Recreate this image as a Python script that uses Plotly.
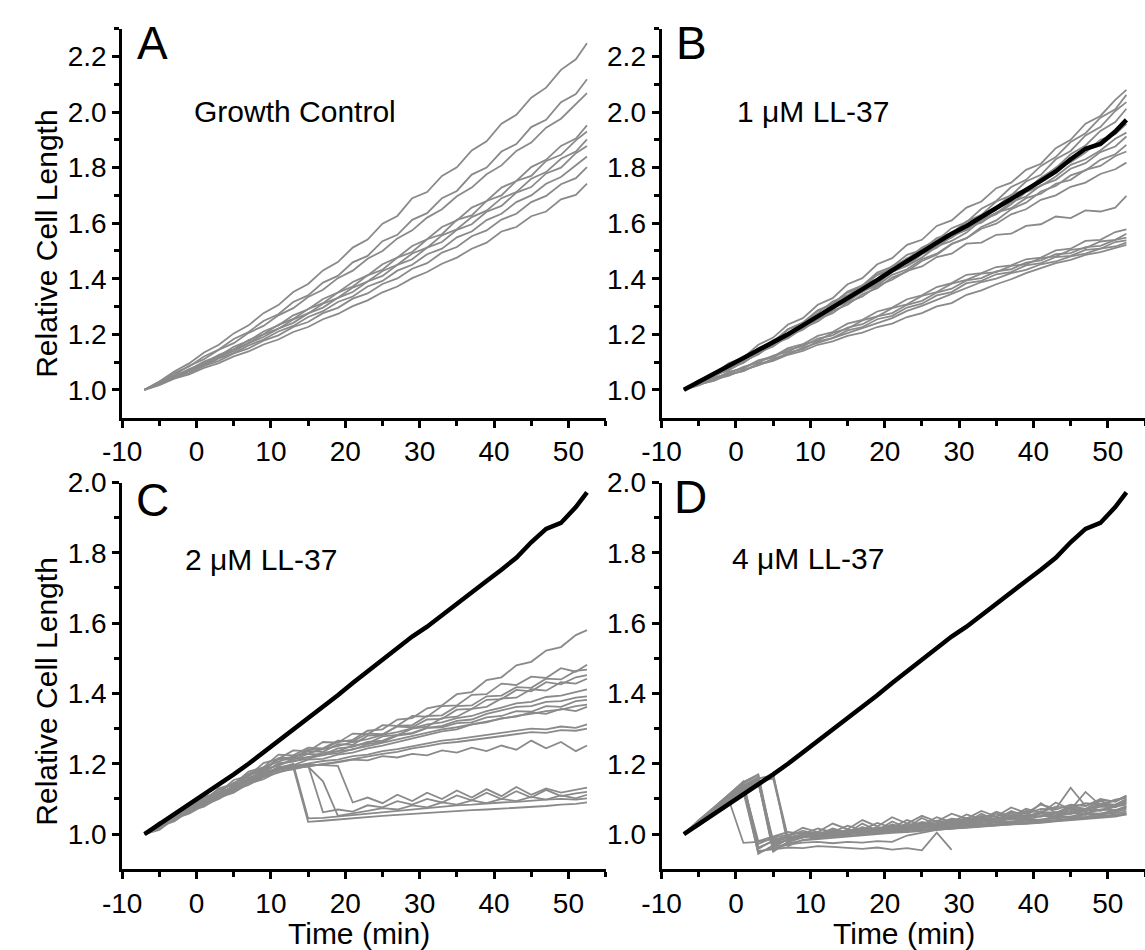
import plotly.graph_objects as go

# time axis (min), shared by every trace
T = [-7, -5, -3, -1, 1, 3, 5, 7, 9, 11, 13, 15, 17, 19, 21, 23, 25, 27, 29, 31,
     33, 35, 37, 39, 41, 43, 45, 47, 49, 51, 52.5]

# mean growth-control curve (black reference in B, C, D)
CONTROL_MEAN = [1.000, 1.028, 1.056, 1.085, 1.112, 1.140, 1.170, 1.200, 1.232, 1.264, 1.296, 1.328, 1.362, 1.395, 1.430, 1.463,
                1.496, 1.530, 1.562, 1.590, 1.622, 1.652, 1.688, 1.720, 1.752, 1.786, 1.830, 1.868, 1.885, 1.930, 1.972]

# panel A - growth control
A1 = [1.000, 1.030, 1.066, 1.095, 1.134, 1.162, 1.203, 1.232, 1.276, 1.305, 1.352, 1.381, 1.430, 1.460, 1.512, 1.541, 1.598, 1.626, 1.690, 1.712, 1.770, 1.801, 1.862, 1.895, 1.958, 1.990, 2.052, 2.088, 2.152, 2.190, 2.248]
A2 = [1.000, 1.026, 1.060, 1.084, 1.120, 1.145, 1.183, 1.208, 1.248, 1.272, 1.316, 1.340, 1.386, 1.410, 1.459, 1.482, 1.535, 1.558, 1.612, 1.636, 1.690, 1.716, 1.775, 1.800, 1.858, 1.885, 1.946, 1.972, 2.036, 2.065, 2.118]
A3 = [1.000, 1.029, 1.053, 1.086, 1.110, 1.144, 1.168, 1.205, 1.230, 1.268, 1.294, 1.334, 1.360, 1.402, 1.429, 1.472, 1.500, 1.545, 1.574, 1.620, 1.650, 1.697, 1.728, 1.776, 1.808, 1.860, 1.890, 1.944, 1.976, 2.030, 2.068]
A4 = [1.000, 1.022, 1.051, 1.072, 1.102, 1.122, 1.155, 1.176, 1.210, 1.232, 1.268, 1.290, 1.327, 1.350, 1.388, 1.412, 1.452, 1.476, 1.518, 1.542, 1.586, 1.610, 1.656, 1.680, 1.728, 1.752, 1.802, 1.828, 1.878, 1.905, 1.952]
A5 = [1.000, 1.025, 1.046, 1.075, 1.095, 1.126, 1.146, 1.179, 1.200, 1.234, 1.255, 1.291, 1.312, 1.350, 1.372, 1.412, 1.432, 1.476, 1.496, 1.542, 1.560, 1.612, 1.628, 1.680, 1.700, 1.752, 1.770, 1.824, 1.846, 1.898, 1.930]
A6 = [1.000, 1.021, 1.048, 1.068, 1.096, 1.117, 1.146, 1.168, 1.199, 1.220, 1.253, 1.275, 1.310, 1.331, 1.368, 1.390, 1.428, 1.450, 1.491, 1.512, 1.556, 1.578, 1.622, 1.645, 1.690, 1.712, 1.760, 1.784, 1.832, 1.858, 1.902]
A7 = [1.000, 1.024, 1.043, 1.070, 1.090, 1.118, 1.139, 1.168, 1.190, 1.220, 1.241, 1.275, 1.296, 1.331, 1.352, 1.390, 1.410, 1.450, 1.470, 1.512, 1.532, 1.576, 1.596, 1.641, 1.662, 1.710, 1.730, 1.779, 1.800, 1.852, 1.878]
A8 = [1.000, 1.023, 1.041, 1.067, 1.086, 1.113, 1.132, 1.160, 1.181, 1.210, 1.230, 1.262, 1.283, 1.316, 1.336, 1.372, 1.392, 1.429, 1.450, 1.488, 1.508, 1.549, 1.570, 1.611, 1.634, 1.676, 1.700, 1.742, 1.766, 1.810, 1.840]
A9 = [1.000, 1.018, 1.043, 1.060, 1.086, 1.104, 1.131, 1.149, 1.177, 1.196, 1.226, 1.244, 1.276, 1.295, 1.328, 1.347, 1.381, 1.401, 1.436, 1.456, 1.494, 1.514, 1.553, 1.574, 1.613, 1.634, 1.676, 1.698, 1.740, 1.762, 1.802]
A10 = [1.000, 1.017, 1.040, 1.055, 1.079, 1.096, 1.120, 1.138, 1.163, 1.181, 1.208, 1.226, 1.254, 1.273, 1.301, 1.322, 1.351, 1.372, 1.402, 1.424, 1.454, 1.476, 1.508, 1.530, 1.570, 1.586, 1.625, 1.642, 1.686, 1.702, 1.742]

# panel B - 1 uM LL-37
B1 = [1.000, 1.034, 1.056, 1.095, 1.116, 1.162, 1.188, 1.235, 1.258, 1.306, 1.330, 1.380, 1.402, 1.452, 1.474, 1.522, 1.540, 1.590, 1.610, 1.656, 1.678, 1.726, 1.746, 1.792, 1.814, 1.870, 1.900, 1.958, 1.986, 2.044, 2.080]
B2 = [1.000, 1.025, 1.058, 1.080, 1.114, 1.138, 1.178, 1.202, 1.242, 1.266, 1.308, 1.334, 1.376, 1.400, 1.446, 1.470, 1.512, 1.538, 1.582, 1.604, 1.652, 1.680, 1.730, 1.756, 1.806, 1.838, 1.892, 1.924, 1.980, 2.010, 2.062]
B3 = [1.000, 1.031, 1.052, 1.086, 1.106, 1.148, 1.172, 1.218, 1.240, 1.285, 1.310, 1.354, 1.376, 1.422, 1.444, 1.486, 1.504, 1.546, 1.564, 1.606, 1.630, 1.678, 1.700, 1.750, 1.774, 1.830, 1.860, 1.916, 1.946, 2.004, 2.036]
B4 = [1.000, 1.022, 1.054, 1.071, 1.104, 1.128, 1.168, 1.191, 1.232, 1.256, 1.296, 1.320, 1.360, 1.384, 1.424, 1.448, 1.488, 1.512, 1.552, 1.576, 1.620, 1.648, 1.692, 1.720, 1.764, 1.798, 1.848, 1.880, 1.932, 1.964, 2.012]
B5 = [1.000, 1.032, 1.050, 1.080, 1.116, 1.140, 1.170, 1.218, 1.240, 1.276, 1.318, 1.340, 1.372, 1.414, 1.436, 1.468, 1.510, 1.530, 1.562, 1.606, 1.626, 1.658, 1.702, 1.722, 1.754, 1.800, 1.820, 1.854, 1.900, 1.920, 1.958]
B6 = [1.000, 1.021, 1.053, 1.072, 1.098, 1.136, 1.160, 1.192, 1.234, 1.256, 1.288, 1.330, 1.352, 1.384, 1.426, 1.446, 1.476, 1.516, 1.536, 1.566, 1.610, 1.632, 1.668, 1.712, 1.734, 1.768, 1.810, 1.830, 1.862, 1.904, 1.926]
B7 = [1.000, 1.028, 1.046, 1.078, 1.104, 1.130, 1.172, 1.198, 1.240, 1.266, 1.306, 1.330, 1.370, 1.394, 1.434, 1.456, 1.494, 1.516, 1.556, 1.576, 1.614, 1.636, 1.676, 1.696, 1.736, 1.756, 1.796, 1.816, 1.856, 1.876, 1.912]
B8 = [1.000, 1.024, 1.054, 1.070, 1.102, 1.128, 1.164, 1.186, 1.222, 1.246, 1.284, 1.306, 1.344, 1.366, 1.404, 1.426, 1.464, 1.486, 1.524, 1.546, 1.586, 1.610, 1.650, 1.674, 1.714, 1.734, 1.772, 1.790, 1.828, 1.848, 1.882]
B9 = [1.000, 1.030, 1.052, 1.088, 1.106, 1.150, 1.174, 1.218, 1.242, 1.286, 1.308, 1.350, 1.372, 1.414, 1.436, 1.474, 1.492, 1.530, 1.548, 1.586, 1.602, 1.638, 1.654, 1.690, 1.706, 1.742, 1.756, 1.792, 1.806, 1.842, 1.858]
B10 = [1.000, 1.022, 1.054, 1.072, 1.104, 1.128, 1.168, 1.192, 1.232, 1.256, 1.294, 1.316, 1.354, 1.376, 1.414, 1.434, 1.470, 1.490, 1.526, 1.546, 1.580, 1.598, 1.632, 1.650, 1.684, 1.700, 1.731, 1.746, 1.777, 1.794, 1.818]
B11 = [1.000, 1.027, 1.048, 1.078, 1.097, 1.134, 1.156, 1.194, 1.216, 1.254, 1.276, 1.314, 1.336, 1.374, 1.396, 1.428, 1.444, 1.478, 1.490, 1.526, 1.530, 1.558, 1.562, 1.590, 1.596, 1.624, 1.618, 1.646, 1.642, 1.656, 1.698]
B12 = [1.000, 1.024, 1.038, 1.064, 1.078, 1.106, 1.120, 1.150, 1.164, 1.194, 1.208, 1.238, 1.252, 1.282, 1.296, 1.326, 1.340, 1.370, 1.384, 1.414, 1.420, 1.442, 1.448, 1.470, 1.476, 1.502, 1.508, 1.536, 1.540, 1.568, 1.578]
B13 = [1.000, 1.018, 1.043, 1.058, 1.083, 1.098, 1.123, 1.137, 1.163, 1.177, 1.205, 1.220, 1.250, 1.264, 1.294, 1.308, 1.338, 1.352, 1.382, 1.396, 1.418, 1.424, 1.446, 1.452, 1.474, 1.480, 1.504, 1.510, 1.534, 1.540, 1.562]
B14 = [1.000, 1.022, 1.037, 1.063, 1.077, 1.104, 1.117, 1.144, 1.157, 1.184, 1.196, 1.224, 1.236, 1.264, 1.276, 1.306, 1.320, 1.350, 1.364, 1.394, 1.402, 1.426, 1.434, 1.458, 1.466, 1.488, 1.492, 1.514, 1.518, 1.540, 1.548]
B15 = [1.000, 1.020, 1.032, 1.056, 1.067, 1.094, 1.106, 1.134, 1.146, 1.174, 1.186, 1.214, 1.226, 1.254, 1.266, 1.296, 1.310, 1.340, 1.352, 1.384, 1.392, 1.416, 1.424, 1.448, 1.456, 1.478, 1.482, 1.504, 1.508, 1.532, 1.538]
B16 = [1.000, 1.016, 1.037, 1.050, 1.072, 1.088, 1.112, 1.128, 1.152, 1.168, 1.186, 1.204, 1.222, 1.240, 1.258, 1.284, 1.302, 1.324, 1.346, 1.368, 1.388, 1.400, 1.420, 1.432, 1.452, 1.462, 1.480, 1.490, 1.508, 1.516, 1.530]
B17 = [1.000, 1.019, 1.033, 1.054, 1.068, 1.090, 1.104, 1.126, 1.140, 1.162, 1.174, 1.194, 1.206, 1.226, 1.238, 1.262, 1.276, 1.300, 1.312, 1.342, 1.358, 1.380, 1.398, 1.420, 1.438, 1.456, 1.468, 1.486, 1.496, 1.512, 1.522]

# panel C - 2 uM LL-37
C1 = [1.000, 1.032, 1.046, 1.084, 1.098, 1.128, 1.140, 1.172, 1.184, 1.216, 1.218, 1.240, 1.242, 1.262, 1.268, 1.294, 1.298, 1.326, 1.330, 1.358, 1.366, 1.398, 1.404, 1.438, 1.446, 1.480, 1.490, 1.522, 1.532, 1.566, 1.580]
C2 = [1.000, 1.020, 1.058, 1.070, 1.106, 1.118, 1.154, 1.166, 1.202, 1.214, 1.238, 1.236, 1.262, 1.260, 1.286, 1.284, 1.310, 1.308, 1.336, 1.334, 1.364, 1.366, 1.396, 1.398, 1.428, 1.424, 1.448, 1.444, 1.472, 1.462, 1.482]
C3 = [1.000, 1.028, 1.040, 1.074, 1.086, 1.120, 1.132, 1.168, 1.180, 1.214, 1.216, 1.236, 1.234, 1.256, 1.254, 1.280, 1.282, 1.308, 1.310, 1.336, 1.338, 1.364, 1.366, 1.392, 1.394, 1.418, 1.416, 1.442, 1.440, 1.464, 1.468]
C4 = [1.000, 1.034, 1.044, 1.080, 1.094, 1.130, 1.142, 1.178, 1.190, 1.226, 1.224, 1.246, 1.244, 1.266, 1.264, 1.286, 1.284, 1.306, 1.304, 1.326, 1.328, 1.354, 1.356, 1.382, 1.384, 1.410, 1.406, 1.432, 1.426, 1.446, 1.452]
C5 = [1.000, 1.018, 1.050, 1.062, 1.096, 1.106, 1.140, 1.150, 1.184, 1.194, 1.214, 1.218, 1.232, 1.236, 1.252, 1.258, 1.278, 1.282, 1.300, 1.306, 1.330, 1.334, 1.356, 1.362, 1.386, 1.388, 1.412, 1.408, 1.432, 1.428, 1.442]
C6 = [1.000, 1.022, 1.054, 1.072, 1.102, 1.120, 1.146, 1.164, 1.190, 1.206, 1.222, 1.230, 1.242, 1.250, 1.262, 1.270, 1.282, 1.290, 1.302, 1.312, 1.318, 1.330, 1.336, 1.350, 1.360, 1.372, 1.376, 1.390, 1.394, 1.404, 1.412]
C7 = [1.000, 1.026, 1.042, 1.070, 1.088, 1.116, 1.130, 1.160, 1.174, 1.202, 1.206, 1.220, 1.224, 1.236, 1.240, 1.256, 1.262, 1.280, 1.286, 1.302, 1.308, 1.322, 1.326, 1.342, 1.352, 1.362, 1.364, 1.376, 1.378, 1.388, 1.392]
C8 = [1.000, 1.030, 1.048, 1.078, 1.098, 1.126, 1.142, 1.170, 1.186, 1.212, 1.212, 1.228, 1.226, 1.244, 1.248, 1.262, 1.266, 1.282, 1.288, 1.302, 1.304, 1.316, 1.318, 1.332, 1.336, 1.350, 1.348, 1.364, 1.362, 1.378, 1.382]
C9 = [1.000, 1.020, 1.046, 1.066, 1.092, 1.112, 1.136, 1.158, 1.180, 1.198, 1.208, 1.214, 1.226, 1.230, 1.242, 1.250, 1.260, 1.270, 1.278, 1.290, 1.298, 1.304, 1.312, 1.320, 1.330, 1.336, 1.342, 1.350, 1.354, 1.364, 1.368]
C10 = [1.000, 1.024, 1.040, 1.072, 1.086, 1.114, 1.128, 1.156, 1.168, 1.190, 1.196, 1.212, 1.214, 1.226, 1.232, 1.244, 1.252, 1.262, 1.272, 1.280, 1.292, 1.298, 1.312, 1.318, 1.330, 1.334, 1.346, 1.342, 1.356, 1.350, 1.362]
C11 = [1.000, 1.016, 1.048, 1.062, 1.090, 1.108, 1.132, 1.152, 1.170, 1.186, 1.194, 1.200, 1.208, 1.212, 1.222, 1.226, 1.236, 1.242, 1.250, 1.258, 1.266, 1.270, 1.276, 1.282, 1.290, 1.294, 1.300, 1.298, 1.306, 1.302, 1.312]
C12 = [1.000, 1.022, 1.036, 1.066, 1.078, 1.104, 1.118, 1.144, 1.156, 1.178, 1.184, 1.194, 1.198, 1.206, 1.212, 1.220, 1.228, 1.234, 1.244, 1.250, 1.258, 1.262, 1.268, 1.272, 1.280, 1.284, 1.290, 1.288, 1.296, 1.294, 1.300]
C13 = [1.000, 1.012, 1.044, 1.058, 1.082, 1.100, 1.124, 1.140, 1.162, 1.176, 1.188, 1.192, 1.200, 1.204, 1.212, 1.210, 1.222, 1.218, 1.228, 1.224, 1.238, 1.232, 1.246, 1.236, 1.252, 1.240, 1.266, 1.244, 1.262, 1.236, 1.252]
C14 = [1.000, 1.020, 1.046, 1.060, 1.088, 1.104, 1.128, 1.146, 1.166, 1.182, 1.190, 1.035, 1.038, 1.042, 1.046, 1.048, 1.052, 1.055, 1.058, 1.060, 1.063, 1.066, 1.068, 1.070, 1.072, 1.076, 1.078, 1.080, 1.084, 1.086, 1.090]
C15 = [1.000, 1.028, 1.040, 1.068, 1.082, 1.110, 1.122, 1.150, 1.162, 1.188, 1.200, 1.045, 1.046, 1.050, 1.056, 1.060, 1.064, 1.068, 1.072, 1.074, 1.078, 1.082, 1.084, 1.088, 1.090, 1.092, 1.096, 1.098, 1.100, 1.098, 1.102]
C16 = [1.000, 1.024, 1.044, 1.070, 1.090, 1.112, 1.136, 1.154, 1.174, 1.188, 1.196, 1.192, 1.150, 1.052, 1.058, 1.066, 1.074, 1.070, 1.082, 1.076, 1.090, 1.084, 1.096, 1.088, 1.100, 1.094, 1.106, 1.098, 1.110, 1.102, 1.112]
C17 = [1.000, 1.030, 1.050, 1.076, 1.094, 1.118, 1.134, 1.158, 1.172, 1.190, 1.194, 1.198, 1.196, 1.194, 1.090, 1.104, 1.088, 1.112, 1.094, 1.118, 1.100, 1.124, 1.104, 1.128, 1.108, 1.134, 1.112, 1.130, 1.118, 1.126, 1.132]
C18 = [1.000, 1.018, 1.052, 1.064, 1.092, 1.108, 1.130, 1.150, 1.168, 1.184, 1.192, 1.196, 1.062, 1.070, 1.064, 1.082, 1.076, 1.094, 1.084, 1.100, 1.090, 1.110, 1.096, 1.118, 1.100, 1.122, 1.104, 1.126, 1.108, 1.116, 1.120]

# panel D - 4 uM LL-37
D1 = [1.000, 1.036, 1.072, 1.108, 1.142, 0.972, 0.990, 0.998, 1.004, 1.000, 1.010, 1.008, 1.018, 1.014, 1.026, 1.022, 1.034, 1.030, 1.044, 1.040, 1.052, 1.050, 1.062, 1.058, 1.072, 1.070, 1.084, 1.080, 1.096, 1.094, 1.110]
D2 = [1.000, 1.030, 1.066, 1.100, 1.134, 1.160, 0.962, 0.986, 0.996, 1.002, 1.000, 1.012, 1.006, 1.020, 1.016, 1.030, 1.024, 1.038, 1.034, 1.046, 1.044, 1.058, 1.052, 1.066, 1.062, 1.078, 1.074, 1.088, 1.084, 1.098, 1.104]
D3 = [1.000, 1.026, 1.060, 1.096, 1.128, 1.150, 0.950, 0.978, 0.990, 0.996, 1.004, 1.000, 1.010, 1.006, 1.018, 1.014, 1.026, 1.022, 1.034, 1.030, 1.042, 1.040, 1.052, 1.048, 1.062, 1.060, 1.072, 1.070, 1.086, 1.084, 1.100]
D4 = [1.000, 1.040, 1.074, 1.112, 1.150, 0.958, 0.982, 0.994, 1.010, 0.998, 1.016, 1.004, 1.030, 1.010, 1.036, 1.018, 1.046, 1.026, 1.040, 1.034, 1.058, 1.040, 1.066, 1.050, 1.088, 1.060, 1.080, 1.072, 1.094, 1.080, 1.098]
D5 = [1.000, 1.028, 1.062, 1.098, 1.130, 1.158, 1.168, 0.990, 0.996, 1.002, 1.006, 1.004, 1.014, 1.010, 1.022, 1.018, 1.030, 1.028, 1.038, 1.036, 1.046, 1.044, 1.054, 1.052, 1.062, 1.062, 1.072, 1.070, 1.082, 1.080, 1.094]
D6 = [1.000, 1.034, 1.068, 1.104, 1.138, 1.162, 0.968, 0.984, 0.992, 1.000, 0.998, 1.008, 1.004, 1.014, 1.012, 1.022, 1.020, 1.030, 1.026, 1.036, 1.034, 1.044, 1.042, 1.052, 1.050, 1.062, 1.058, 1.072, 1.068, 1.082, 1.088]
D7 = [1.000, 1.032, 1.064, 1.098, 1.132, 0.944, 0.968, 0.984, 0.994, 0.990, 1.000, 0.998, 1.008, 1.004, 1.016, 1.010, 1.024, 1.018, 1.030, 1.026, 1.040, 1.034, 1.048, 1.044, 1.058, 1.054, 1.066, 1.064, 1.078, 1.076, 1.090]
D8 = [1.000, 1.024, 1.058, 1.092, 1.122, 1.146, 0.976, 0.990, 1.000, 1.006, 1.002, 1.012, 1.010, 1.018, 1.016, 1.026, 1.022, 1.032, 1.030, 1.040, 1.036, 1.046, 1.044, 1.054, 1.050, 1.060, 1.058, 1.070, 1.066, 1.078, 1.084]
D9 = [1.000, 1.028, 1.066, 1.102, 1.138, 0.962, 0.980, 0.990, 0.998, 0.996, 1.004, 1.002, 1.010, 1.008, 1.016, 1.014, 1.022, 1.020, 1.030, 1.026, 1.036, 1.034, 1.044, 1.040, 1.052, 1.050, 1.060, 1.058, 1.070, 1.068, 1.080]
D10 = [1.000, 1.038, 1.070, 1.106, 1.144, 1.168, 0.954, 0.976, 0.998, 0.992, 1.012, 0.998, 1.020, 1.004, 1.028, 1.010, 1.034, 1.018, 1.042, 1.024, 1.050, 1.032, 1.060, 1.040, 1.066, 1.046, 1.074, 1.054, 1.086, 1.064, 1.078]
D11 = [1.000, 1.030, 1.064, 1.096, 1.126, 1.150, 1.158, 0.982, 0.992, 0.998, 1.000, 1.006, 1.004, 1.012, 1.010, 1.018, 1.016, 1.024, 1.022, 1.030, 1.028, 1.036, 1.034, 1.044, 1.040, 1.052, 1.050, 1.060, 1.058, 1.068, 1.074]
D12 = [1.000, 1.026, 1.062, 1.094, 1.130, 1.156, 0.972, 0.984, 0.994, 0.998, 0.996, 1.004, 1.002, 1.010, 1.008, 1.016, 1.014, 1.022, 1.020, 1.028, 1.026, 1.034, 1.032, 1.040, 1.040, 1.048, 1.046, 1.056, 1.054, 1.064, 1.070]
D13 = [1.000, 1.034, 1.068, 1.100, 0.975, 0.978, 0.986, 0.992, 0.996, 0.998, 1.000, 1.004, 1.006, 1.010, 1.012, 1.016, 1.018, 1.022, 1.024, 1.028, 1.030, 1.034, 1.036, 1.040, 1.042, 1.044, 1.050, 1.048, 1.058, 1.060, 1.064]
D14 = [1.000, 1.030, 1.064, 1.100, 1.132, 1.152, 0.982, 0.990, 0.994, 0.996, 0.998, 1.002, 1.004, 1.008, 1.010, 1.012, 1.016, 1.018, 1.020, 1.024, 1.026, 1.028, 1.030, 1.034, 1.036, 1.038, 1.042, 1.046, 1.050, 1.054, 1.060]
D15 = [1.000, 1.026, 1.060, 1.094, 1.124, 1.146, 1.172, 0.966, 0.984, 0.990, 0.994, 0.996, 1.000, 1.002, 1.006, 1.008, 1.010, 1.014, 1.016, 1.020, 1.022, 1.024, 1.028, 1.030, 1.032, 1.036, 1.040, 1.042, 1.046, 1.050, 1.056]
D16 = [1.000, 1.036, 1.070, 1.104, 1.140, 0.980, 0.994, 1.006, 1.000, 1.016, 1.006, 1.024, 1.012, 1.032, 1.018, 1.040, 1.026, 1.048, 1.034, 1.056, 1.042, 1.064, 1.050, 1.072, 1.060, 1.090, 1.070, 1.120, 1.082, 1.096, 1.104]
D17 = [1.000, 1.030, 1.062, 1.096, 1.130, 0.952, 0.958, 0.962, 0.960, 0.966, 0.964, 0.960, 0.958, 0.962, 0.956, 0.960, 0.954, 1.004, 0.955]
D18 = [1.000, 1.028, 1.058, 1.090, 1.124, 1.148, 0.958, 0.970, 0.976, 0.978, 0.974, 0.978, 0.976, 0.980, 0.978, 0.996, 1.004, 1.012, 1.016, 1.020, 1.024, 1.026, 1.030, 1.034, 1.036, 1.040, 1.044, 1.046, 1.050, 1.054, 1.058]
D19 = [1.000, 1.040, 1.076, 1.112, 1.148, 1.170, 0.970, 0.996, 1.018, 1.006, 1.030, 1.014, 1.040, 1.022, 1.048, 1.030, 1.052, 1.036, 1.058, 1.044, 1.066, 1.050, 1.076, 1.060, 1.084, 1.072, 1.132, 1.080, 1.100, 1.092, 1.108]
D20 = [1.000, 1.024, 1.056, 1.090, 1.120, 0.948, 0.962, 0.974, 0.982, 0.986, 0.990, 0.994, 0.998, 1.000, 1.004, 1.006, 1.010, 1.012, 1.016, 1.018, 1.022, 1.024, 1.028, 1.030, 1.034, 1.036, 1.040, 1.044, 1.048, 1.052, 1.056]

PANEL_A = [A1, A2, A3, A4, A5, A6, A7, A8, A9, A10]
PANEL_B = [B1, B2, B3, B4, B5, B6, B7, B8, B9, B10, B11, B12, B13, B14, B15, B16, B17]
PANEL_C = [C1, C2, C3, C4, C5, C6, C7, C8, C9, C10, C11, C12, C13, C14, C15, C16, C17, C18]
PANEL_D = [D1, D2, D3, D4, D5, D6, D7, D8, D9, D10, D11, D12, D13, D14, D15, D16, D17, D18, D19, D20]

# tick labels
X_TICKS = [-10, 0, 10, 20, 30, 40, 50]
X_TICK_LABELS = ["-10", "0", "10", "20", "30", "40", "50"]
X_MINOR = [-5, 5, 15, 25, 35, 45, 55]
Y_TICKS_TOP = [1.0, 1.2, 1.4, 1.6, 1.8, 2.0, 2.2]
Y_TICKS_BOTTOM = [1.0, 1.2, 1.4, 1.6, 1.8, 2.0]
Y_MINOR = [1.1, 1.3, 1.5, 1.7, 1.9, 2.1, 2.3]

FONT = "Liberation Sans, Arial, Helvetica, sans-serif"
GRAY = "rgb(138,138,138)"
W, H = 1145, 950

fig = go.Figure()


def add_panel(traces, n, with_mean):
    xa = "x" if n == 1 else "x%d" % n
    ya = "y" if n == 1 else "y%d" % n
    for y in traces:
        fig.add_scatter(x=T[:len(y)], y=y, xaxis=xa, yaxis=ya, mode="lines",
                        line=dict(color=GRAY, width=1.8), hoverinfo="skip", showlegend=False)
    if with_mean:
        fig.add_scatter(x=T, y=CONTROL_MEAN, xaxis=xa, yaxis=ya, mode="lines",
                        line=dict(color="black", width=4.5), hoverinfo="skip", showlegend=False)


add_panel(PANEL_A, 1, False)
add_panel(PANEL_B, 2, True)
add_panel(PANEL_C, 3, True)
add_panel(PANEL_D, 4, True)

axis_style = dict(
    showline=True, linecolor="black", linewidth=3,
    ticks="outside", ticklen=7, tickwidth=2.5, tickcolor="black",
    showgrid=False, zeroline=False, fixedrange=True,
    tickfont=dict(family=FONT, size=28, color="black"),
)


def x_axis(domain, anchor):
    return dict(axis_style, domain=domain, anchor=anchor, range=[-10, 55],
                tickmode="array", tickvals=X_TICKS, ticktext=X_TICK_LABELS,
                minor=dict(tickmode="array", tickvals=X_MINOR, ticks="outside",
                           ticklen=5, tickwidth=2.5, tickcolor="black", showgrid=False))


def y_axis(domain, anchor, top, ticks):
    return dict(axis_style, domain=domain, anchor=anchor, range=[0.9, top],
                tickmode="array", tickvals=ticks, ticktext=["%.1f" % v for v in ticks],
                minor=dict(tickmode="array", tickvals=[v for v in Y_MINOR if v <= top],
                           ticks="outside", ticklen=5, tickwidth=2.5, tickcolor="black",
                           showgrid=False))


left = [104 / W, 596 / W]
right = [653 / W, 1.0]
top = [1 - 409 / H, 1 - 14 / H]
bottom = [1 - 868 / H, 1 - 475 / H]

fig.update_layout(
    width=W, height=H,
    margin=dict(l=0, r=0, t=0, b=0),
    paper_bgcolor="white", plot_bgcolor="white",
    xaxis=x_axis(left, "y"), yaxis=y_axis(top, "x", 2.3, Y_TICKS_TOP),
    xaxis2=x_axis(right, "y2"), yaxis2=y_axis(top, "x2", 2.3, Y_TICKS_TOP),
    xaxis3=x_axis(left, "y3"), yaxis3=y_axis(bottom, "x3", 2.0, Y_TICKS_BOTTOM),
    xaxis4=x_axis(right, "y4"), yaxis4=y_axis(bottom, "x4", 2.0, Y_TICKS_BOTTOM),
)


def note(text, x, y, size, angle=0, anchor="center"):
    fig.add_annotation(text=text, x=x / W, y=1 - y / H, xref="paper", yref="paper",
                       showarrow=False, textangle=angle, xanchor=anchor, yanchor="middle",
                       font=dict(family=FONT, size=size, color="black"))


# panel letters
note("A", 117, 28, 46, anchor="left")
note("B", 666, 28, 46, anchor="left")
note("C", 116, 493, 46, anchor="left")
note("D", 664, 490, 46, anchor="left")

# condition labels
note("Growth Control", 175, 98, 30, anchor="left")
note("1 μM LL-37", 728, 98, 30, anchor="left")
note("2 μM LL-37", 166, 553, 30, anchor="left")
note("4 μM LL-37", 723, 552, 30, anchor="left")

# axis titles
note("Relative Cell Length", 27, 232, 30, angle=-90)
note("Relative Cell Length", 27, 687, 30, angle=-90)
note("Time (min)", 345, 933, 30)
note("Time (min)", 900, 933, 30)

fig.write_html("out.html", config={"displayModeBar": False},
               post_script="document.body.style.margin='0';")
